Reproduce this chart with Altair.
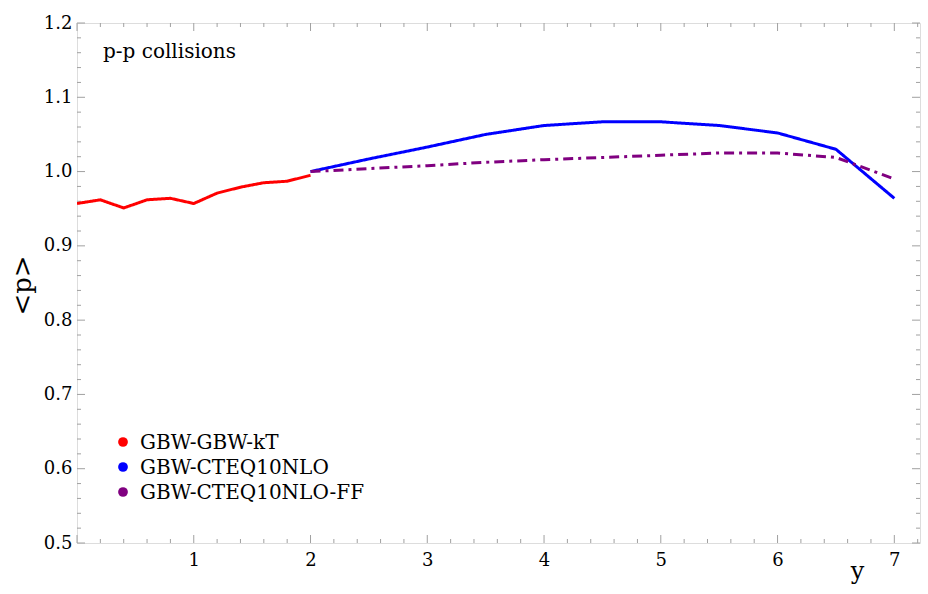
import altair as alt
import pandas as pd

# Mean <p> versus rapidity y for p-p collisions
red_y = [0.0, 0.2, 0.4, 0.6, 0.8, 1.0, 1.2, 1.4, 1.6, 1.8, 2.0]
red_p = [0.957, 0.962, 0.951, 0.962, 0.964, 0.957, 0.971, 0.979, 0.985, 0.987, 0.995]

blue_y = [2.0, 2.5, 3.0, 3.5, 4.0, 4.5, 5.0, 5.5, 6.0, 6.5, 7.0]
blue_p = [1.000, 1.017, 1.033, 1.050, 1.062, 1.067, 1.067, 1.062, 1.052, 1.030, 0.964]

purple_y = [2.0, 2.5, 3.0, 3.5, 4.0, 4.5, 5.0, 5.5, 6.0, 6.5, 7.0]
purple_p = [1.000, 1.004, 1.008, 1.0125, 1.016, 1.019, 1.022, 1.025, 1.025, 1.019, 0.990]

series_names = ["GBW-GBW-kT", "GBW-CTEQ10NLO", "GBW-CTEQ10NLO-FF"]
series_colors = ["#ff0000", "#0000ff", "#800080"]
series_dash = [[1, 0], [1, 0], [10, 5, 3, 5]]

x_major = [0, 1, 2, 3, 4, 5, 6, 7]
x_minor = [round(i * 0.2, 1) for i in range(0, 37) if i % 5 != 0]
y_major = [0.5, 0.6, 0.7, 0.8, 0.9, 1.0, 1.1, 1.2]
y_minor = [round(0.5 + i * 0.02, 2) for i in range(0, 36) if i % 5 != 0]

X_DOMAIN = [0, 7.22]
Y_DOMAIN = [0.5, 1.2]
W, H = 843, 520
FONT = "DejaVu Serif"

rows = []
for name, xs_, ps in zip(series_names, [red_y, blue_y, purple_y], [red_p, blue_p, purple_p]):
    for i, (a, b) in enumerate(zip(xs_, ps)):
        rows.append({"series": name, "y": a, "p": b, "order": i})
df = pd.DataFrame(rows)

xs = alt.Scale(domain=X_DOMAIN, nice=False, zero=False)
ys = alt.Scale(domain=Y_DOMAIN, nice=False, zero=False)
color_scale = alt.Scale(domain=series_names, range=series_colors)

lines = alt.Chart(df).mark_line(strokeWidth=3, clip=True).encode(
    x=alt.X("y:Q", scale=xs,
            axis=alt.Axis(values=x_major[1:], format="d", title="y", domain=False, ticks=False,
                          grid=False, labelFont=FONT, labelFontSize=18, labelColor="black",
                          labelPadding=8, titleFont=FONT, titleFontSize=24,
                          titleFontWeight="normal", titleColor="black", titleX=780,
                          titleY=35, titleBaseline="alphabetic")),
    y=alt.Y("p:Q", scale=ys,
            axis=alt.Axis(values=y_major, format=".1f", title="<p>", domain=False, ticks=False,
                          grid=False, labelFont=FONT, labelFontSize=18, labelColor="black",
                          labelPadding=5, titleFont=FONT, titleFontSize=26,
                          titleFontWeight="normal", titleColor="black", titleX=-55, titleY=262,
                          titleAngle=270, titleBaseline="middle")),
    color=alt.Color("series:N", scale=color_scale, legend=None),
    strokeDash=alt.StrokeDash("series:N",
                              scale=alt.Scale(domain=series_names, range=series_dash),
                              legend=None),
    order="order:Q",
)

# Series key: filled dots with labels, stacked in rows
key_df = pd.DataFrame({"series": series_names, "row": list(range(len(series_names)))})
row_scale = alt.Scale(domain=[0, 2], range=[419, 469])
key_dots = alt.Chart(key_df).mark_point(filled=True, size=95, opacity=1).encode(
    x=alt.value(46),
    y=alt.Y("row:Q", scale=row_scale, axis=None),
    color=alt.Color("series:N", scale=color_scale, legend=None),
)
key_text = alt.Chart(key_df).mark_text(
    font=FONT, fontSize=20, color="black", align="left", baseline="middle", dy=1
).encode(
    x=alt.value(63),
    y=alt.Y("row:Q", scale=row_scale, axis=None),
    text="series:N",
)

# Inward frame ticks on all four sides
tick_col = "#a0a0a0"
def xticks(vals, length, top):
    d = pd.DataFrame({"v": vals})
    if top:
        yy, yy2 = alt.value(0), alt.value(length)
    else:
        yy, yy2 = alt.value(H), alt.value(H - length)
    return alt.Chart(d).mark_rule(color=tick_col, strokeWidth=1).encode(
        x=alt.X("v:Q", scale=xs, axis=None), y=yy, y2=yy2)

def yticks(vals, length, right):
    d = pd.DataFrame({"v": vals})
    if right:
        xx, xx2 = alt.value(W), alt.value(W - length)
    else:
        xx, xx2 = alt.value(0), alt.value(length)
    return alt.Chart(d).mark_rule(color=tick_col, strokeWidth=1).encode(
        y=alt.Y("v:Q", scale=ys, axis=None), x=xx, x2=xx2)

ticks = [
    xticks(x_major, 8, False), xticks(x_minor, 4, False),
    xticks(x_major, 8, True), xticks(x_minor, 4, True),
    yticks(y_major, 8, False), yticks(y_minor, 4, False),
    yticks(y_major, 8, True), yticks(y_minor, 4, True),
]

label = alt.Chart(pd.DataFrame({"t": ["p-p collisions"]})).mark_text(
    font=FONT, fontSize=20, color="black", align="left", baseline="alphabetic"
).encode(text="t:N", x=alt.value(26), y=alt.value(35))

chart = alt.layer(*ticks, lines, key_dots, key_text, label).resolve_scale(
    x="independent", y="independent"
).properties(
    width=W, height=H,
    autosize=alt.AutoSizeParams(type="none"),
    padding={"left": 77, "top": 23, "right": 8, "bottom": 51},
).configure_view(stroke=tick_col, strokeWidth=1).configure(background="white")

chart.save("out.html", embed_options={"renderer": "svg", "actions": False})
